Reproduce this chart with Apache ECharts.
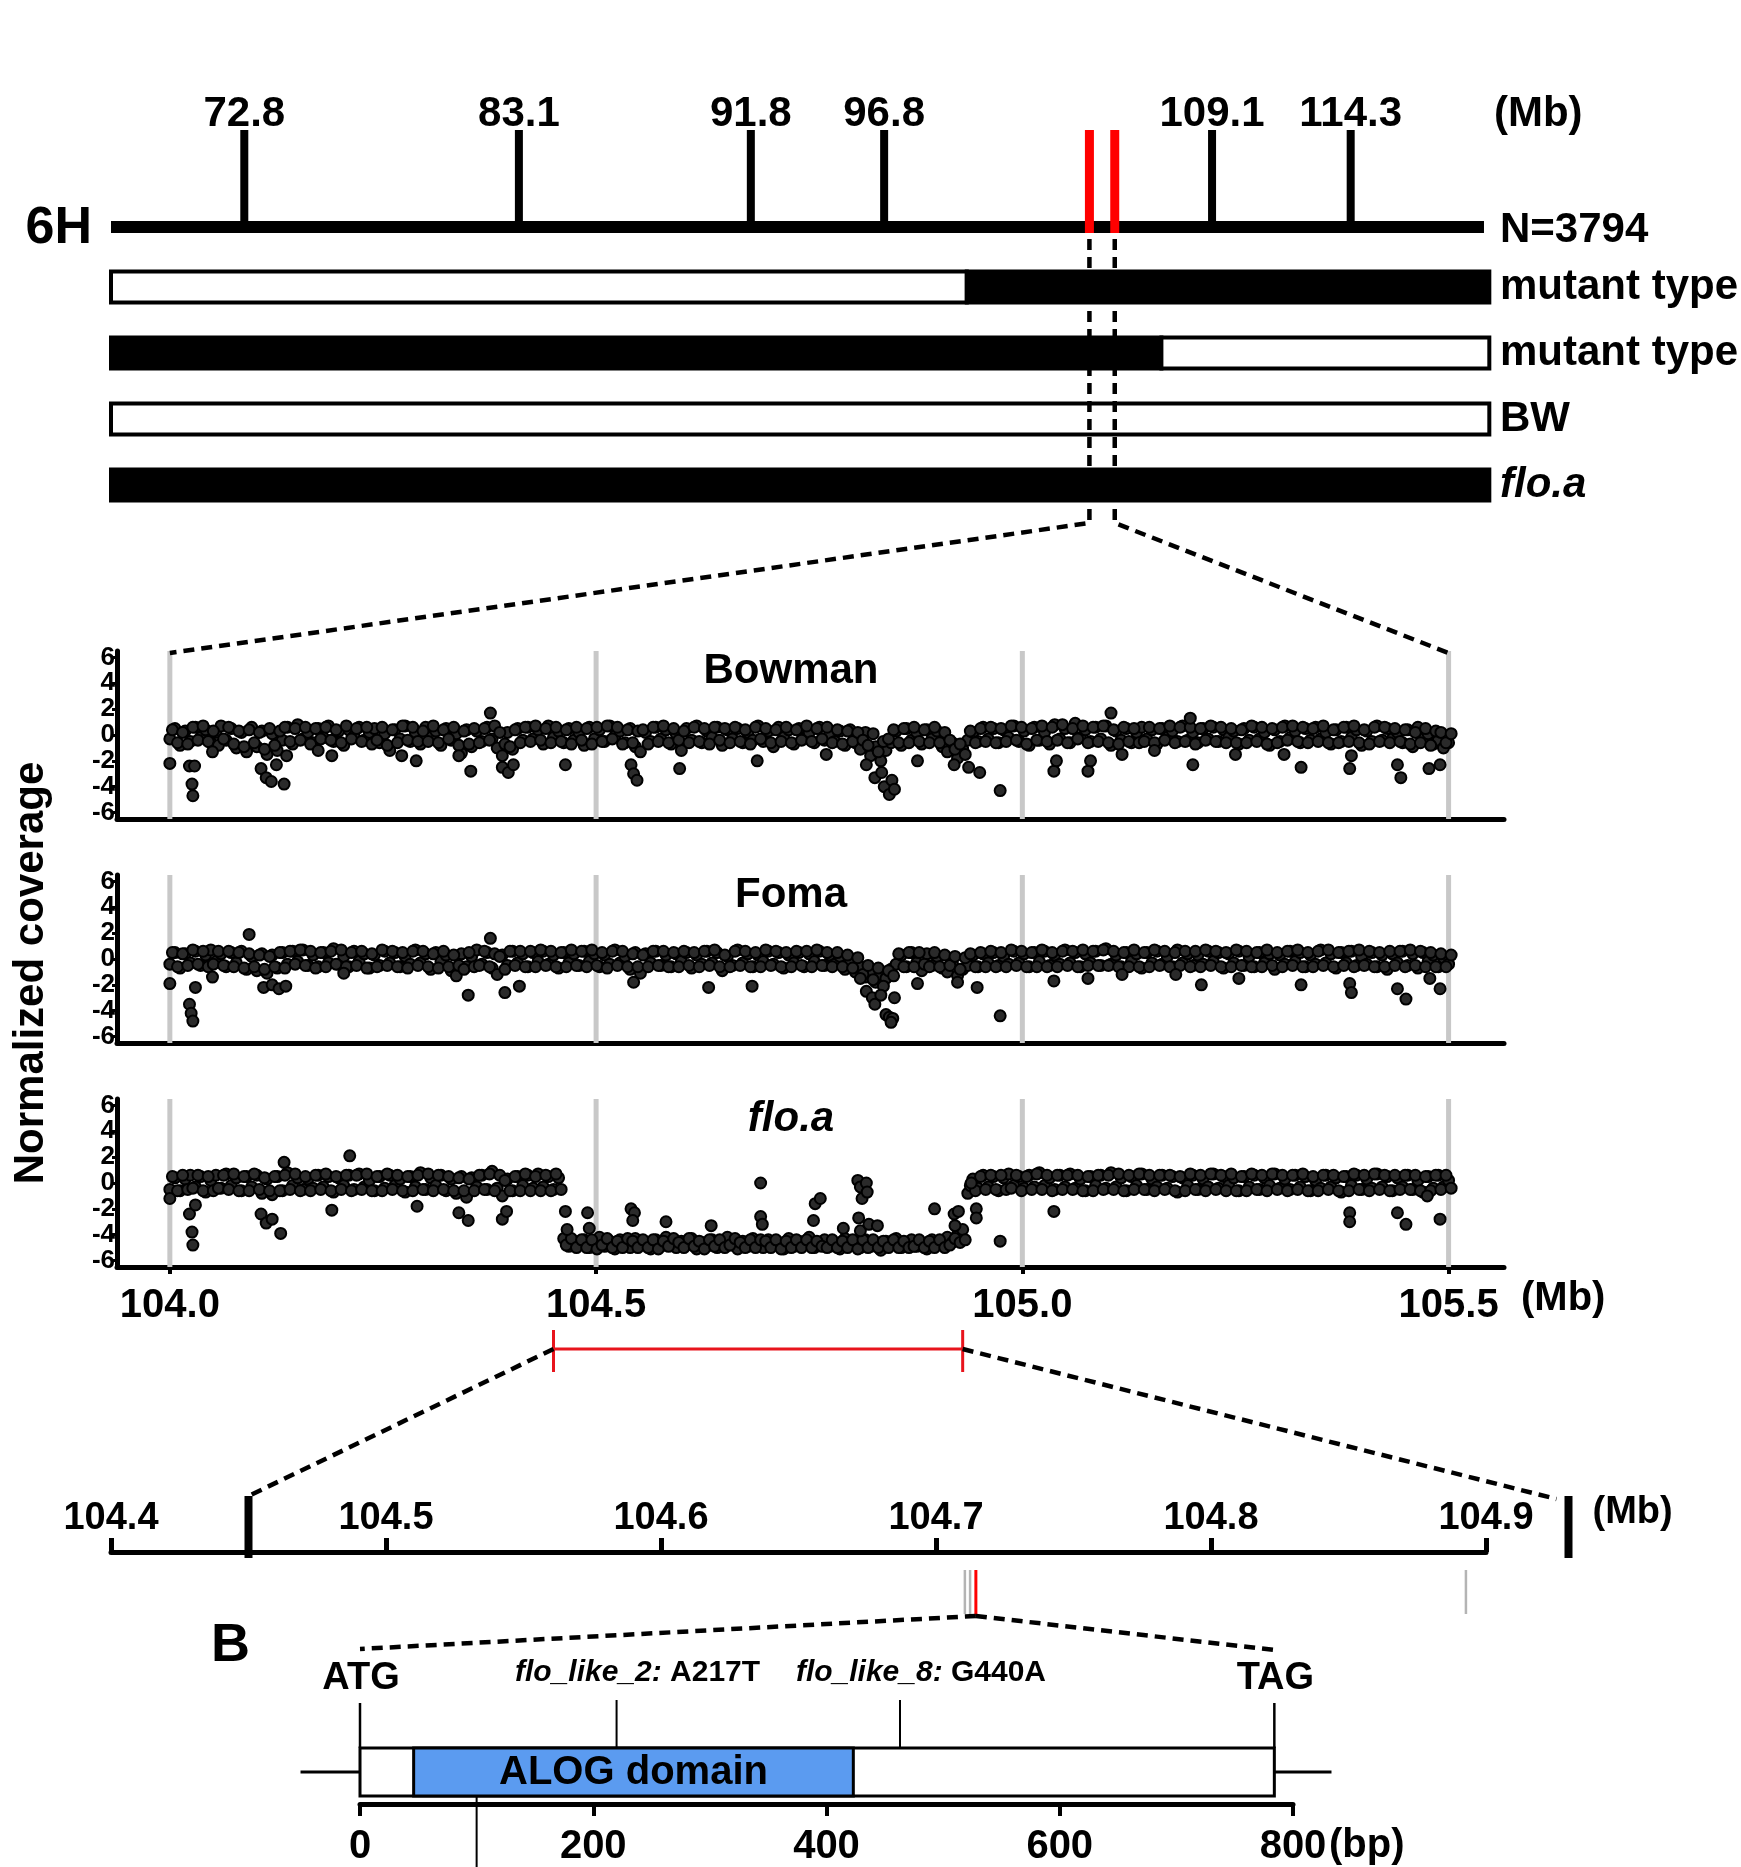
<!DOCTYPE html>
<html>
<head>
<meta charset="utf-8">
<title>6H fine mapping of flo.a</title>
<script src="https://cdn.jsdelivr.net/npm/echarts@6.0.0/dist/echarts.min.js"></script>
<style>
html,body{margin:0;padding:0;background:#ffffff;}
#chart{width:1741px;height:1867px;}
</style>
</head>
<body>
<div id="chart"></div>
<script>
// ===================== DATA =====================
const chromLabel = '6H';
const chromRange = [67.8, 119.3];                 // Mb
const markerPos = [72.8, 83.1, 91.8, 96.8, 109.1, 114.3];
const flankMarkers = [104.5, 105.45];            // red flanking markers
const popLabel = 'N=3794';
const genoRows = ['mutant type', 'mutant type', 'BW', 'flo.a'];
// genotype segments: [start Mb, end Mb, allele (1 = flo.a, 0 = BW)]
const genoRow1 = [[67.8, 99.9, 0], [99.9, 119.5, 1]];
const genoRow2 = [[67.8, 107.2, 1], [107.2, 119.5, 0]];
const genoRow3 = [[67.8, 119.5, 0]];
const genoRow4 = [[67.8, 119.5, 1]];

const samples = ['Bowman', 'Foma', 'flo.a'];
const coverageTicks = [104.0, 104.5, 105.0, 105.5];
const coverageYTicks = [-6, -4, -2, 0, 2, 4, 6];

// genomic bins (Mb)
const binPos = [
104.000,104.006,104.012,104.018,104.024,104.030,104.036,104.042,104.048,104.054,
104.060,104.066,104.072,104.078,104.084,104.090,104.096,104.102,104.108,104.114,
104.120,104.126,104.132,104.138,104.144,104.150,104.156,104.162,104.168,104.174,
104.180,104.186,104.192,104.198,104.204,104.210,104.216,104.222,104.228,104.234,
104.240,104.246,104.252,104.258,104.264,104.270,104.276,104.282,104.288,104.294,
104.300,104.306,104.312,104.318,104.324,104.330,104.336,104.342,104.348,104.354,
104.360,104.366,104.372,104.378,104.384,104.390,104.396,104.402,104.408,104.414,
104.420,104.426,104.432,104.438,104.444,104.450,104.456,104.462,104.468,104.474,
104.480,104.486,104.492,104.498,104.504,104.510,104.516,104.522,104.528,104.534,
104.540,104.546,104.552,104.558,104.564,104.570,104.576,104.582,104.588,104.594,
104.600,104.606,104.612,104.618,104.624,104.630,104.636,104.642,104.648,104.654,
104.660,104.666,104.672,104.678,104.684,104.690,104.696,104.702,104.708,104.714,
104.720,104.726,104.732,104.738,104.744,104.750,104.756,104.762,104.768,104.774,
104.780,104.786,104.792,104.798,104.804,104.810,104.816,104.822,104.828,104.834,
104.840,104.846,104.852,104.858,104.864,104.870,104.876,104.882,104.888,104.894,
104.900,104.906,104.912,104.918,104.924,104.930,104.936,104.942,104.948,104.954,
104.960,104.966,104.972,104.978,104.984,104.990,104.996,105.002,105.008,105.014,
105.020,105.026,105.032,105.038,105.044,105.050,105.056,105.062,105.068,105.074,
105.080,105.086,105.092,105.098,105.104,105.110,105.116,105.122,105.128,105.134,
105.140,105.146,105.152,105.158,105.164,105.170,105.176,105.182,105.188,105.194,
105.200,105.206,105.212,105.218,105.224,105.230,105.236,105.242,105.248,105.254,
105.260,105.266,105.272,105.278,105.284,105.290,105.296,105.302,105.308,105.314,
105.320,105.326,105.332,105.338,105.344,105.350,105.356,105.362,105.368,105.374,
105.380,105.386,105.392,105.398,105.404,105.410,105.416,105.422,105.428,105.434,
105.440,105.446,105.452,105.458,105.464,105.470,105.476,105.482,105.488,105.494,
105.500];

// two read-outs per bin (upper / lower part of the dense cloud)
const bowmanBins = [
-0.3,0.5,-0.8,0.3,-0.5,0.6,-0.2,0.4,-0.6,0.2,
0.7,-0.4,0.5,-1.0,0.2,-1.3,0.6,-0.9,0.3,-1.5,
0.1,-1.2,-0.4,0.6,-0.7,0.8,-0.3,0.2,-0.6,0.5,
-0.2,0.7,-0.5,0.3,-0.8,0.4,-0.1,0.6,-0.4,0.2,
0.5,-0.6,0.1,-1.2,0.4,-0.3,0.7,-0.5,0.2,-0.7,
0.6,-0.2,0.3,-0.8,0.5,-0.4,0.1,-1.4,0.4,-0.9,
0.3,-0.5,0.6,-0.3,-1.0,-1.6,0.2,-1.1,0.5,-0.4,
0.6,-0.3,0.4,-0.7,0.7,-0.2,0.3,-0.6,0.5,-0.4,
0.2,-0.8,0.6,-0.3,0.4,-0.5,0.7,-0.1,0.3,-0.6,
0.5,-0.9,-1.3,0.2,-0.5,0.6,-0.3,0.4,-0.7,0.1,
-1.2,0.5,-0.4,0.7,-0.6,0.3,-0.2,0.6,-0.8,0.4,
-0.3,0.5,-0.6,0.2,-0.4,0.7,-0.5,0.3,-0.9,0.6,
-0.2,0.4,-0.7,0.5,-0.3,0.2,-0.6,0.6,-0.4,0.1,
-0.5,0.3,-0.8,0.4,-0.6,-1.1,0.2,-1.6,-0.9,-2.0,
-1.2,-0.6,0.3,-0.8,0.5,-0.4,0.2,-0.7,0.4,-0.3,
0.3,-0.9,-1.3,-0.6,-1.8,-1.1,-0.4,0.2,-0.5,0.6,
-0.3,0.5,-0.6,0.4,-0.2,0.7,-0.5,0.3,-0.8,0.6,
-0.4,0.2,-0.7,0.8,-0.3,0.5,-0.6,0.9,-0.2,0.4,
-0.5,0.6,-0.3,0.7,-0.8,0.3,-0.4,0.5,-0.6,0.2,
0.6,-0.3,0.4,-0.7,0.5,-0.2,0.3,-0.5,0.7,-0.4,
0.2,-0.6,0.5,-0.3,0.6,-0.5,0.4,-0.2,0.3,-0.7,
0.5,-0.4,0.6,-0.3,0.2,-0.8,0.4,-0.5,0.7,-0.2,
0.3,-0.6,0.5,-0.4,0.6,-0.3,0.2,-0.7,0.4,-0.5,
0.6,-0.2,0.4,-0.8,0.3,-0.5,0.7,-0.4,0.5,-0.3,
0.2,-0.6,0.4,-0.9,0.6,-0.3,0.1,-0.7,-0.4,-1.0,
-0.6];
const bowmanBins2 = [
0.4,-0.6,0.2,-0.7,0.6,-0.4,0.7,-0.5,0.3,-0.8,
-0.3,0.6,-0.7,0.3,-0.9,0.4,-0.6,0.2,-1.1,0.5,
-0.8,0.3,0.6,-0.5,0.5,-0.4,0.6,-0.7,0.5,-0.3,
0.6,-0.4,0.4,-0.6,0.7,-0.3,0.5,-0.5,0.6,-0.7,
-0.4,0.6,-0.8,0.4,-0.6,0.7,-0.4,0.6,-0.5,0.3,
-0.5,0.7,-0.6,0.4,-0.3,0.6,-0.8,0.3,-0.7,0.5,
-0.6,0.5,-0.4,0.7,0.2,-0.7,-0.9,0.4,-0.6,0.6,
-0.5,0.7,-0.4,0.5,-0.6,0.6,-0.5,0.4,-0.7,0.6,
-0.4,0.5,-0.7,0.6,-0.5,0.7,-0.3,0.6,-0.7,0.4,
-0.6,0.3,0.4,-0.7,0.6,-0.5,0.7,-0.6,0.5,-0.4,
0.3,-0.6,0.6,-0.5,0.5,-0.7,0.6,-0.4,0.5,-0.6,
0.6,-0.5,0.4,-0.7,0.6,-0.3,0.5,-0.6,0.4,-0.5,
0.6,-0.6,0.4,-0.4,0.7,-0.5,0.5,-0.3,0.6,-0.6,
0.4,-0.7,0.3,-0.5,0.2,-0.4,-0.8,0.1,-1.3,-0.5,
-0.3,0.4,-0.6,0.5,-0.6,0.6,-0.5,0.4,-0.6,0.6,
-0.6,0.2,-0.4,-1.1,-0.7,-1.5,0.3,-0.6,0.5,-0.5,
0.6,-0.6,0.5,-0.5,0.7,-0.4,0.6,-0.7,0.5,-0.4,
0.7,-0.5,0.6,-0.4,0.8,-0.6,0.5,-0.3,0.7,-0.6,
0.6,-0.5,0.7,-0.6,0.4,-0.7,0.6,-0.5,0.5,-0.6,
-0.5,0.6,-0.6,0.5,-0.4,0.7,-0.6,0.6,-0.5,0.6,
-0.7,0.5,-0.4,0.7,-0.5,0.6,-0.6,0.5,-0.6,0.4,
-0.6,0.7,-0.5,0.6,-0.7,0.5,-0.6,0.6,-0.4,0.7,
-0.5,0.6,-0.6,0.5,-0.5,0.7,-0.6,0.4,-0.6,0.6,
-0.5,0.7,-0.6,0.4,-0.7,0.6,-0.5,0.6,-0.6,0.5,
-0.5,0.4,-0.7,0.2,-0.6,0.5,-0.8,0.3,0.2,-0.6,
0.1];

const fomaBins = [
-0.4,0.5,-0.7,0.4,-0.3,0.6,-0.5,0.3,0.7,-0.2,
0.4,-0.6,0.5,-0.3,0.6,-0.8,0.2,-0.9,0.4,-1.1,
0.3,-0.7,0.5,-0.4,0.6,-0.2,0.7,-0.5,0.3,-0.6,
0.5,-0.3,0.8,-0.4,0.2,-0.6,0.6,-0.2,0.4,-0.7,
0.3,-0.5,0.6,-0.3,0.5,-0.6,0.2,-0.4,0.7,-0.3,
0.4,-0.8,0.5,-0.2,0.3,-0.9,-1.3,0.4,-0.6,0.2,
0.7,-0.4,0.5,-0.7,-1.2,0.3,-0.5,0.6,-0.3,0.4,
-0.6,0.5,-0.2,0.6,-0.4,0.3,-0.7,0.5,-0.3,0.4,
-0.5,0.6,-0.2,0.4,-0.6,0.3,-0.4,0.7,-0.3,0.2,
-0.8,0.5,-1.1,0.4,-0.3,0.6,-0.5,0.3,-0.6,0.4,
-0.2,0.5,-0.7,0.3,-0.4,0.6,-0.3,0.5,-0.9,0.2,
-0.5,0.7,-0.3,0.4,-0.6,0.3,-0.2,0.6,-0.4,0.5,
-0.7,0.3,-0.3,0.5,-0.6,0.4,-0.2,0.6,-0.5,0.3,
-0.4,0.2,-0.8,-0.3,-1.0,-0.6,-1.4,-0.9,-1.8,-1.2,
-1.5,-0.8,-0.4,0.3,-0.6,0.5,-0.3,-0.9,0.4,-0.5,
0.2,-0.7,-1.0,-0.4,-1.3,-0.8,-0.5,0.3,-0.6,0.4,
-0.3,0.5,-0.5,0.2,-0.4,0.6,-0.3,0.4,-0.6,0.5,
-0.2,0.6,-0.5,0.3,-0.4,0.7,-0.3,0.5,-0.6,0.4,
-0.3,0.6,-0.5,0.8,-0.4,0.3,-0.6,0.5,-0.2,0.4,
-0.7,0.5,-0.3,0.6,-0.4,0.2,-0.6,0.7,-0.3,0.4,
-0.5,0.3,-0.4,0.6,-0.2,0.5,-0.7,0.4,-0.3,0.6,
-0.5,0.2,-0.6,0.5,-0.3,0.4,-0.8,0.3,-0.4,0.6,
-0.2,0.5,-0.6,0.3,-0.4,0.7,-0.3,0.4,-0.7,0.5,
-0.3,0.6,-0.5,0.2,-0.4,0.5,-0.6,0.3,-0.8,0.4,
-0.3,0.6,-0.5,0.4,-0.7,0.5,-0.2,0.3,-0.6,0.1,
-0.4];
const fomaBins2 = [
0.5,-0.6,0.4,-0.5,0.7,-0.4,0.6,-0.6,-0.4,0.6,
-0.5,0.6,-0.6,0.5,-0.7,0.4,-0.6,0.3,-0.8,0.2,
-0.6,0.5,-0.7,0.6,-0.4,0.7,-0.5,0.6,-0.7,0.5,
-0.6,0.6,-0.4,0.7,-0.6,0.5,-0.5,0.6,-0.7,0.4,
-0.6,0.7,-0.5,0.6,-0.6,0.5,-0.7,0.6,-0.5,0.6,
-0.6,0.4,-0.7,0.6,-0.6,0.3,-0.5,-0.8,0.5,-0.6,
-0.5,0.6,-0.6,0.4,0.2,-0.8,0.6,-0.5,0.6,-0.6,
0.6,-0.6,0.7,-0.5,0.6,-0.6,0.5,-0.6,0.7,-0.5,
0.6,-0.6,0.7,-0.5,0.5,-0.7,0.6,-0.5,0.6,-0.6,
0.4,-0.6,0.3,-0.6,0.6,-0.5,0.6,-0.6,0.5,-0.6,
0.6,-0.5,0.5,-0.6,0.6,-0.5,0.7,-0.6,0.3,-0.6,
0.6,-0.5,0.6,-0.6,0.5,-0.6,0.7,-0.5,0.6,-0.6,
0.5,-0.6,0.6,-0.5,0.6,-0.6,0.7,-0.5,0.5,-0.6,
0.5,-0.6,0.3,-0.7,0.1,-1.2,-0.5,-1.6,-0.7,-2.1,
-0.9,-1.3,0.4,-0.6,0.5,-0.6,0.5,-0.4,-0.6,0.5,
-0.6,0.3,-0.5,0.2,-0.8,0.1,0.4,-0.6,0.5,-0.6,
0.6,-0.6,0.5,-0.6,0.7,-0.5,0.6,-0.6,0.5,-0.6,
0.7,-0.6,0.5,-0.6,0.6,-0.5,0.6,-0.6,0.7,-0.5,
0.6,-0.5,0.7,-0.5,0.6,-0.6,0.5,-0.6,0.7,-0.6,
0.5,-0.6,0.7,-0.5,0.6,-0.6,0.5,-0.5,0.6,-0.6,
0.6,-0.6,0.7,-0.5,0.6,-0.6,0.5,-0.6,0.7,-0.5,
0.6,-0.6,0.5,-0.6,0.7,-0.5,0.5,-0.6,0.6,-0.5,
0.7,-0.6,0.5,-0.6,0.6,-0.5,0.7,-0.6,0.5,-0.5,
0.6,-0.6,0.7,-0.5,0.6,-0.6,0.5,-0.6,0.6,-0.5,
0.6,-0.6,0.7,-0.5,0.6,-0.6,0.5,-0.6,0.4,-0.6,
0.3];

const floaBins = [
-0.5,0.4,-0.6,0.3,0.6,-0.3,0.5,-0.7,0.2,0.6,
-0.4,0.7,-0.2,0.4,-0.6,0.5,-0.3,0.6,-0.8,0.3,
-0.9,0.5,-0.6,0.8,-0.2,0.4,-0.5,0.3,-0.4,0.6,
-0.3,0.5,-0.7,0.4,-0.2,0.6,-0.5,0.7,-0.3,0.2,
-0.6,0.5,-0.4,0.6,-0.2,0.3,-0.7,0.5,-0.3,0.8,
-0.5,0.4,-0.2,0.6,-0.6,0.3,-0.8,0.5,-1.1,0.4,
-0.3,0.6,-0.5,0.9,-0.4,-1.0,0.3,-0.6,0.5,-0.2,
0.6,-0.4,0.7,-0.3,0.5,-0.5,0.4,-4.3,-4.9,-4.5,
-4.8,-4.4,-5.0,-4.6,-4.2,-4.9,-4.5,-5.1,-4.4,-4.7,
-5.0,-4.3,-4.8,-4.6,-5.1,-4.4,-4.9,-4.2,-4.7,-5.0,
-4.5,-4.8,-4.3,-5.1,-4.6,-4.9,-4.4,-5.0,-4.7,-4.2,
-4.8,-5.1,-4.5,-4.9,-4.3,-4.7,-5.0,-4.4,-4.8,-4.6,
-5.1,-4.3,-4.9,-4.5,-4.8,-4.2,-5.0,-4.6,-4.4,-4.9,
-4.7,-5.1,-4.3,-4.8,-4.5,-5.0,-4.4,-4.9,-4.6,-5.2,
-4.5,-4.8,-4.3,-5.0,-4.6,-4.4,-4.9,-4.7,-5.1,-4.4,
-4.8,-4.5,-4.2,-4.6,-4.0,-3.6,-0.8,0.3,-0.4,0.6,
-0.3,0.5,-0.6,0.4,0.7,-0.2,0.5,-0.4,0.6,-0.3,
0.8,-0.2,0.4,-0.5,0.6,-0.3,0.7,-0.4,0.3,-0.6,
0.5,-0.2,0.6,-0.4,0.8,-0.3,0.4,-0.6,0.5,-0.2,
0.7,-0.5,0.3,-0.3,0.6,-0.4,0.5,-0.7,0.4,-0.2,
0.6,-0.5,0.3,-0.3,0.7,-0.4,0.5,-0.2,0.4,-0.6,
0.5,-0.3,0.6,-0.5,0.4,-0.2,0.7,-0.4,0.3,-0.5,
0.6,-0.3,0.5,-0.6,0.2,-0.4,0.6,-0.3,0.4,-0.7,
0.5,-0.2,0.6,-0.5,0.3,-0.4,0.7,-0.3,0.5,-0.6,
0.4,-0.3,0.6,-0.5,0.2,-0.7,0.5,-0.4,0.6,-0.3,
0.2];
const floaBins2 = [
0.5,-0.6,0.6,-0.5,-0.4,0.6,-0.6,0.5,-0.6,-0.4,
0.6,-0.5,0.7,-0.6,0.5,-0.6,0.7,-0.5,0.4,-0.6,
0.5,-0.6,0.6,-0.5,0.7,-0.6,0.5,-0.6,0.6,-0.5,
0.7,-0.6,0.5,-0.5,0.6,-0.6,0.6,-0.5,0.7,-0.6,
0.5,-0.6,0.7,-0.5,0.6,-0.6,0.5,-0.6,0.6,-0.5,
0.7,-0.6,0.6,-0.5,0.5,-0.6,0.4,-0.6,0.3,-0.6,
0.6,-0.5,0.7,-0.6,0.6,0.2,-0.6,0.5,-0.6,0.7,
-0.6,0.5,-0.6,0.6,-0.6,0.7,-0.5,-4.8,-4.3,-5.0,
-4.4,-5.0,-4.4,-5.1,-4.8,-4.3,-5.0,-4.5,-5.0,-4.3,
-4.5,-5.0,-4.4,-5.0,-4.4,-5.1,-4.5,-4.9,-4.3,-4.6,
-5.0,-4.3,-4.9,-4.5,-5.1,-4.4,-4.9,-4.4,-5.0,-4.8,
-4.3,-4.6,-5.0,-4.4,-5.0,-4.4,-4.5,-5.0,-4.4,-5.1,
-4.5,-5.0,-4.4,-5.0,-4.4,-5.0,-4.5,-4.9,-5.0,-4.4,
-5.0,-4.5,-5.0,-4.4,-5.1,-4.4,-5.0,-4.4,-5.0,-4.5,
-5.0,-4.4,-5.0,-4.5,-5.0,-4.9,-4.4,-5.0,-4.5,-5.0,
-4.4,-5.0,-4.8,-4.3,-4.6,-4.4,-0.2,-0.6,0.5,-0.5,
0.6,-0.5,0.6,-0.5,-0.4,0.6,-0.6,0.5,-0.5,0.7,
-0.5,0.6,-0.6,0.6,-0.5,0.6,-0.5,0.6,-0.6,0.5,
-0.6,0.6,-0.5,0.6,-0.5,0.7,-0.6,0.6,-0.5,0.7,
-0.5,0.6,-0.6,0.6,-0.5,0.6,-0.6,0.5,-0.6,0.7,
-0.5,0.6,-0.6,0.7,-0.5,0.6,-0.6,0.7,-0.6,0.5,
-0.6,0.7,-0.5,0.6,-0.6,0.7,-0.5,0.6,-0.6,0.6,
-0.5,0.7,-0.6,0.5,-0.6,0.6,-0.5,0.6,-0.6,0.5,
-0.6,0.7,-0.5,0.6,-0.6,0.7,-0.5,0.6,-0.6,0.6,
-0.5,0.6,-0.5,0.6,-0.6,0.5,-0.6,0.6,-0.5,0.6,
-0.4];

// off-band points [Mb, normalized coverage]
const bowmanLow = [
[104.0,-2.2],[104.023,-2.4],[104.026,-3.8],[104.027,-4.7],[104.029,-2.4],[104.05,-1.3],
[104.107,-2.6],[104.113,-3.3],[104.119,-3.6],[104.125,-2.3],[104.134,-3.8],[104.137,-1.6],
[104.174,-1.2],[104.19,-1.6],[104.272,-1.6],[104.289,-2.0],[104.339,-1.6],[104.353,-2.8],
[104.376,1.7],[104.39,-2.5],[104.397,-2.9],[104.403,-2.3],[104.464,-2.3],[104.541,-2.3],
[104.544,-3.0],[104.548,-3.5],[104.598,-2.6],[104.689,-2.0],[104.77,-1.5],[104.817,-2.3],
[104.827,-3.3],[104.835,-2.9],[104.838,-4.0],[104.844,-4.6],[104.847,-3.5],[104.85,-4.2],
[104.877,-2.0],[104.92,-2.3],[104.937,-2.5],[104.95,-2.9],[104.974,-4.3],[105.037,-2.8],
[105.04,-2.0],[105.077,-2.8],[105.08,-2.0],[105.104,1.7],[105.117,-1.5],[105.155,-1.2],
[105.197,1.3],[105.2,-2.3],[105.25,-1.5],[105.307,-1.5],[105.327,-2.5],[105.384,-2.6],
[105.386,-1.6],[105.444,-3.3],[105.44,-2.3],[105.477,-2.6],[105.49,-2.3]];

const fomaLow = [
[104.0,-1.9],[104.023,-3.5],[104.025,-4.2],[104.027,-4.8],[104.03,-2.2],[104.05,-1.4],
[104.093,1.9],[104.11,-2.2],[104.12,-2.0],[104.128,-2.3],[104.136,-2.1],[104.204,-1.1],
[104.35,-2.8],[104.376,1.6],[104.393,-2.6],[104.41,-2.1],[104.544,-1.8],[104.632,-2.2],
[104.683,-2.1],[104.81,-1.5],[104.817,-2.5],[104.824,-3.0],[104.827,-3.5],[104.834,-2.8],
[104.84,-4.3],[104.844,-4.5],[104.848,-4.6],[104.846,-4.9],[104.85,-3.0],[104.877,-1.9],
[104.924,-1.8],[104.947,-2.2],[104.974,-4.4],[105.037,-1.7],[105.077,-1.5],[105.117,-1.2],
[105.18,-1.2],[105.21,-2.0],[105.254,-1.5],[105.327,-2.0],[105.384,-1.9],[105.386,-2.6],
[105.44,-2.3],[105.45,-3.1],[105.49,-2.3],[105.478,-1.5]];

const floaLow = [
[104.0,-1.2],[104.023,-2.4],[104.026,-3.8],[104.027,-4.8],[104.03,-1.7],[104.107,-2.4],
[104.113,-3.1],[104.12,-2.8],[104.13,-3.9],[104.134,1.6],[104.19,-2.1],[104.211,2.1],
[104.29,-1.8],[104.339,-2.3],[104.35,-2.9],[104.39,-2.8],[104.395,-2.2],
[104.464,-2.2],[104.466,-3.6],[104.49,-2.3],[104.492,-3.5],[104.541,-2.0],[104.545,-2.3],
[104.543,-2.9],[104.582,-3.0],[104.635,-3.3],[104.693,0.0],[104.693,-2.6],[104.695,-3.2],
[104.757,-1.6],[104.763,-1.2],[104.755,-2.9],[104.79,-3.5],[104.807,0.2],[104.81,-0.3],
[104.812,-1.2],[104.808,-2.7],[104.817,0.0],[104.818,-0.7],[104.81,-3.7],[104.82,-3.2],
[104.83,-3.3],[104.897,-2.0],[104.92,-2.4],[104.921,-3.3],[104.925,-2.2],[104.94,0.0],
[104.946,-2.0],[104.946,-2.7],[104.974,-4.5],
[105.037,-2.2],[105.384,-2.3],[105.384,-3.0],[105.44,-2.3],[105.45,-3.2],[105.49,-2.8],
[105.475,-1.0]];

const deletion = [104.45, 104.93];               // Mb, deleted interval in flo.a
const fineTicks = [104.4, 104.5, 104.6, 104.7, 104.8, 104.9];
const otherGenes = [104.7105, 104.7124, 104.8927];
const targetGene = 104.7145;

// Panel B: gene model (bp)
const geneLength = 784;
const geneFlank = [-51, 833];
const alogDomain = [46, 423];
const codonPos = [0, 784];
const codonLabels = ['ATG', 'TAG'];
const mutPos = [220, 463];
const mutAllele = ['flo_like_2', 'flo_like_8'];
const mutChange = ['A217T', 'G440A'];
const bpTicks = [0, 200, 400, 600, 800];
const lowerMark = [100];

// ===================== LAYOUT / STYLE =====================
const FONT = "'Liberation Sans', Arial, Helvetica, sans-serif";
function T(size, extra) { return Object.assign({color:'#000', fontFamily:FONT, fontWeight:'bold', fontSize:size}, extra || {}); }
const LAY = {
  map: {left:111, top:188, width:1375, height:330},
  chromOffset: 6,
  covLeft:117, covWidth:1387, covHeight:168, covTops:[651, 875, 1099],
  covView:[103.938, 105.565], covYView:[-6.5, 6.5],
  fine: {left:111, top:1552, width:1375, height:62},
  gene: {left:360, top:1700, width:933, height:107}
};
const rowLabels = [popLabel].concat(genoRows);
const rowKeys = rowLabels.map((_, i) => 'r' + i);

// ===================== AXES =====================
const grids = [
  LAY.map,
  {left:LAY.covLeft, top:LAY.covTops[0], width:LAY.covWidth, height:LAY.covHeight},
  {left:LAY.covLeft, top:LAY.covTops[1], width:LAY.covWidth, height:LAY.covHeight},
  {left:LAY.covLeft, top:LAY.covTops[2], width:LAY.covWidth, height:LAY.covHeight},
  LAY.fine,
  LAY.gene
];

const xAxes = [
  {gridIndex:0, type:'value', position:'top', min:chromRange[0], max:chromRange[1],
   axisLine:{show:false}, axisTick:{show:false}, splitLine:{show:false},
   axisLabel:Object.assign({customValues:markerPos, formatter:v => v.toFixed(1), margin:53}, T(42))}
];
[1, 2, 3].forEach(g => xAxes.push({
  gridIndex:g, type:'value', min:LAY.covView[0], max:LAY.covView[1],
  axisLine:{show:true, onZero:false, lineStyle:{color:'#000', width:5}},
  axisTick:{show:g === 3, customValues:coverageTicks, length:7, lineStyle:{color:'#000', width:4}},
  axisLabel:Object.assign({show:g === 3, customValues:coverageTicks, formatter:v => v.toFixed(1), margin:19}, T(40)),
  splitLine:{show:false}
}));
xAxes.push({gridIndex:4, type:'value', position:'top', min:fineTicks[0], max:fineTicks[fineTicks.length - 1],
  axisLine:{show:true, onZero:false, lineStyle:{color:'#000', width:5}},
  axisTick:{show:true, customValues:fineTicks, length:14, lineStyle:{color:'#000', width:5}},
  axisLabel:Object.assign({customValues:fineTicks, formatter:v => v.toFixed(1), margin:14}, T(38)),
  splitLine:{show:false}});
xAxes.push({gridIndex:5, type:'value', min:bpTicks[0], max:bpTicks[bpTicks.length - 1],
  axisLine:{show:true, onZero:false, lineStyle:{color:'#000', width:5}},
  axisTick:{show:true, customValues:bpTicks, length:12, lineStyle:{color:'#000', width:4}},
  axisLabel:Object.assign({customValues:bpTicks, margin:23}, T(40)),
  splitLine:{show:false}});

const yAxes = [
  {gridIndex:0, type:'category', inverse:true, data:rowKeys,
   axisLine:{show:false}, axisTick:{show:false}, splitLine:{show:false},
   axisLabel:Object.assign({formatter:(v, i) => i === 0 ? '{h|' + chromLabel + '}' : '', margin:19,
     rich:{h:T(52, {padding:[16, 0, 0, 0]})}}, T(52))},
  {gridIndex:0, type:'category', position:'right', inverse:true, data:rowKeys,
   axisLine:{show:false}, axisTick:{show:false}, splitLine:{show:false},
   axisLabel:Object.assign({
     formatter:(v, i) => i === 0 ? '{n|' + rowLabels[i] + '}' : (rowLabels[i] === 'flo.a' ? '{it|' + rowLabels[i] + '}' : rowLabels[i]),
     margin:16, rich:{it:T(42, {fontStyle:'italic'}), n:T(42, {padding:[18, 0, 0, 0]})}}, T(42))}
];
[1, 2, 3].forEach(g => yAxes.push({
  gridIndex:g, type:'value', min:LAY.covYView[0], max:LAY.covYView[1],
  axisLine:{show:true, onZero:false, lineStyle:{color:'#000', width:5}},
  axisTick:{show:true, customValues:coverageYTicks, length:5, lineStyle:{color:'#000', width:3}},
  axisLabel:Object.assign({customValues:coverageYTicks, margin:2}, T(26)),
  splitLine:{show:false}
}));
yAxes.push({gridIndex:4, type:'value', min:0, max:1, show:false});
yAxes.push({gridIndex:5, type:'value', min:0, max:1, show:false});

// ===================== SERIES =====================
const series = [];
// chromosome bar
series.push({type:'custom', xAxisIndex:0, yAxisIndex:0, clip:false, z:2, encode:{x:[0, 1], y:2},
  data:[[chromRange[0], chromRange[1], 0]],
  renderItem:(p, api) => {
    const a = api.coord([api.value(0), api.value(2)]), b = api.coord([api.value(1), api.value(2)]);
    const y = a[1] + LAY.chromOffset;
    return {type:'rect', shape:{x:a[0], y:y - 6, width:b[0] - a[0], height:12}, style:{fill:'#000'}};
  }});
function markerSeries(list, color, w) {
  return {type:'custom', xAxisIndex:0, yAxisIndex:0, clip:false, z:3, encode:{x:0, y:1},
    data:list.map(v => [v, 0]),
    renderItem:(p, api) => {
      const c = api.coord([api.value(0), api.value(1)]);
      const y = c[1] + LAY.chromOffset;
      return {type:'rect', shape:{x:c[0] - w / 2, y:y - 97, width:w, height:103}, style:{fill:color}};
    }};
}
series.push(markerSeries(markerPos, '#000', 8));
series.push(markerSeries(flankMarkers, '#ff0000', 9));
// genotype bars
const genoData = [];
[genoRow1, genoRow2, genoRow3, genoRow4].forEach((row, r) => row.forEach(s => genoData.push([s[0], s[1], r + 1, s[2]])));
series.push({type:'custom', xAxisIndex:0, yAxisIndex:0, clip:false, z:2, encode:{x:[0, 1], y:2},
  data:genoData,
  renderItem:(p, api) => {
    const a = api.coord([api.value(0), api.value(2)]), b = api.coord([api.value(1), api.value(2)]);
    return {type:'rect', shape:{x:a[0], y:a[1] - 15.5, width:b[0] - a[0], height:31},
      style:{fill:api.value(3) ? '#000' : '#fff', stroke:'#000', lineWidth:4}};
  }});

// coverage panels
const bandSets = [bowmanBins, fomaBins, floaBins];
const bandSets2 = [bowmanBins2, fomaBins2, floaBins2];
const lowSets = [bowmanLow, fomaLow, floaLow];
[0, 1, 2].forEach(k => {
  series.push({type:'custom', xAxisIndex:k + 1, yAxisIndex:k + 2, z:1, clip:false,
    data:coverageTicks.map(v => [v, 0]),
    renderItem:(p, api) => {
      const c = api.coord([api.value(0), 0]); const cs = p.coordSys;
      return {type:'line', shape:{x1:c[0], y1:cs.y, x2:c[0], y2:cs.y + cs.height}, style:{stroke:'#c8c8c8', lineWidth:5}};
    }});
  series.push({type:'scatter', name:samples[k], xAxisIndex:k + 1, yAxisIndex:k + 2, z:2,
    symbol:'circle', symbolSize:11,
    itemStyle:{color:'#2a2a2a', borderColor:'#000', borderWidth:2, opacity:1},
    data:binPos.map((x, i) => [x, bandSets[k][i]])
      .concat(binPos.map((x, i) => [x + 0.003, bandSets2[k][i]]))
      .concat(lowSets[k])});
});
// red bracket (deleted interval)
series.push({type:'custom', xAxisIndex:3, yAxisIndex:4, clip:false, z:3,
  data:[[deletion[0], deletion[1]]],
  renderItem:(p, api) => {
    const cs = p.coordSys;
    const a = api.coord([api.value(0), 0]), b = api.coord([api.value(1), 0]);
    const y = cs.y + cs.height + 82;
    const st = {stroke:'#e8141c', lineWidth:3};
    return {type:'group', children:[
      {type:'line', shape:{x1:a[0], y1:y, x2:b[0], y2:y}, style:st},
      {type:'line', shape:{x1:a[0], y1:y - 19, x2:a[0], y2:y + 23}, style:st},
      {type:'line', shape:{x1:b[0], y1:y - 19, x2:b[0], y2:y + 23}, style:st}
    ]};
  }});

// fine map
series.push({type:'custom', xAxisIndex:4, yAxisIndex:5, clip:false, z:3,
  data:deletion.map(v => [v, 0]),
  renderItem:(p, api) => {
    const cs = p.coordSys; const c = api.coord([api.value(0), 0]);
    return {type:'rect', shape:{x:c[0] - 4, y:cs.y - 56, width:8, height:62}, style:{fill:'#000'}};
  }});
series.push({type:'custom', xAxisIndex:4, yAxisIndex:5, clip:false, z:3,
  data:otherGenes.map(v => [v, 0]),
  renderItem:(p, api) => {
    const cs = p.coordSys; const c = api.coord([api.value(0), 0]);
    return {type:'line', shape:{x1:c[0], y1:cs.y + 18, x2:c[0], y2:cs.y + 62}, style:{stroke:'#b4b4b4', lineWidth:2.5}};
  }});
series.push({type:'custom', xAxisIndex:4, yAxisIndex:5, clip:false, z:4,
  data:[[targetGene, 0]],
  renderItem:(p, api) => {
    const cs = p.coordSys; const c = api.coord([api.value(0), 0]);
    return {type:'line', shape:{x1:c[0], y1:cs.y + 18, x2:c[0], y2:cs.y + 64}, style:{stroke:'#ff0000', lineWidth:3}};
  }});

// gene model
series.push({type:'custom', xAxisIndex:5, yAxisIndex:6, clip:false, z:2,
  data:[[geneFlank[0], geneFlank[1]]],
  renderItem:(p, api) => {
    const cs = p.coordSys; const a = api.coord([api.value(0), 0]), b = api.coord([api.value(1), 0]);
    const y = cs.y + 72;
    return {type:'line', shape:{x1:a[0], y1:y, x2:b[0], y2:y}, style:{stroke:'#000', lineWidth:3}};
  }});
series.push({type:'custom', xAxisIndex:5, yAxisIndex:6, clip:false, z:3,
  data:[[0, geneLength]],
  renderItem:(p, api) => {
    const cs = p.coordSys; const a = api.coord([api.value(0), 0]), b = api.coord([api.value(1), 0]);
    return {type:'rect', shape:{x:a[0], y:cs.y + 48, width:b[0] - a[0], height:48}, style:{fill:'#fff', stroke:'#000', lineWidth:3}};
  }});
series.push({type:'custom', xAxisIndex:5, yAxisIndex:6, clip:false, z:4,
  data:[[alogDomain[0], alogDomain[1]]],
  renderItem:(p, api) => {
    const cs = p.coordSys; const a = api.coord([api.value(0), 0]), b = api.coord([api.value(1), 0]);
    return {type:'group', children:[
      {type:'rect', shape:{x:a[0], y:cs.y + 48, width:b[0] - a[0], height:48}, style:{fill:'#5b9bf0', stroke:'#000', lineWidth:3}},
      {type:'text', x:(a[0] + b[0]) / 2, y:cs.y + 73,
       style:{text:'ALOG domain', fill:'#000', fontFamily:FONT, fontWeight:'bold', fontSize:40, align:'center', verticalAlign:'middle'}}
    ]};
  }});
series.push({type:'custom', xAxisIndex:5, yAxisIndex:6, clip:false, z:5,
  data:codonPos.map((v, i) => [v, i]),
  renderItem:(p, api) => {
    const cs = p.coordSys; const c = api.coord([api.value(0), 0]);
    return {type:'group', children:[
      {type:'line', shape:{x1:c[0], y1:cs.y + 3, x2:c[0], y2:cs.y + 48}, style:{stroke:'#000', lineWidth:2.5}},
      {type:'text', x:c[0] + 1, y:cs.y - 21,
       style:{text:codonLabels[api.value(1)], fill:'#000', fontFamily:FONT, fontWeight:'bold', fontSize:38, align:'center', verticalAlign:'middle'}}
    ]};
  }});
series.push({type:'custom', xAxisIndex:5, yAxisIndex:6, clip:false, z:5,
  data:mutPos.map((v, i) => [v, i]),
  renderItem:(p, api) => {
    const cs = p.coordSys; const c = api.coord([api.value(0), 0]); const i = api.value(1);
    return {type:'group', children:[
      {type:'line', shape:{x1:c[0], y1:cs.y, x2:c[0], y2:cs.y + 48}, style:{stroke:'#000', lineWidth:2}},
      {type:'text', x:c[0] + 21, y:cs.y - 27,
       style:{text:'{i|' + mutAllele[i] + ':} ' + mutChange[i], fill:'#000', fontFamily:FONT, fontWeight:'bold', fontSize:30,
              align:'center', verticalAlign:'middle',
              rich:{i:{fontFamily:FONT, fontWeight:'bold', fontStyle:'italic', fontSize:30, fill:'#000'}}}}
    ]};
  }});
series.push({type:'custom', xAxisIndex:5, yAxisIndex:6, clip:false, z:5,
  data:lowerMark.map(v => [v, 0]),
  renderItem:(p, api) => {
    const cs = p.coordSys; const c = api.coord([api.value(0), 0]);
    return {type:'line', shape:{x1:c[0], y1:cs.y + 96, x2:c[0], y2:cs.y + 170}, style:{stroke:'#000', lineWidth:2}};
  }});

const option = {
  animation:false,
  backgroundColor:'#ffffff',
  textStyle:{fontFamily:FONT},
  grid:grids,
  xAxis:xAxes,
  yAxis:yAxes,
  series:series
};

const chart = echarts.init(document.getElementById('chart'), null, {renderer:'canvas'});
chart.setOption(option);

// ===================== CONNECTORS & FREE TEXT =====================
const X = (ai, v) => chart.convertToPixel({xAxisIndex:ai}, v);
const Y = (ai, v) => chart.convertToPixel({yAxisIndex:ai}, v);
const chromY = Y(0, 0) + LAY.chromOffset, lastRowY = Y(0, rowKeys.length - 1);
const dash = {stroke:'#000', lineWidth:4.5, lineDash:[11, 7], fill:null};
const g = [];
flankMarkers.forEach((m, i) => {
  const x = X(0, m);
  const tx = X(1, i === 0 ? coverageTicks[0] : coverageTicks[coverageTicks.length - 1]);
  g.push({type:'polyline', z:10, shape:{points:[[x, chromY + 12], [x, lastRowY + 38], [tx, LAY.covTops[0] + 2]]}, style:dash});
});
const yB = LAY.covTops[2] + LAY.covHeight + 82;
g.push({type:'line', z:10, shape:{x1:X(3, deletion[0]), y1:yB, x2:X(4, deletion[0]), y2:LAY.fine.top - 56}, style:dash});
g.push({type:'line', z:10, shape:{x1:X(3, deletion[1]), y1:yB, x2:X(4, deletion[1]) - 12, y2:LAY.fine.top - 53}, style:dash});
const gx = X(4, targetGene), gy = LAY.fine.top + 64;
g.push({type:'line', z:10, shape:{x1:gx, y1:gy, x2:X(5, codonPos[0]), y2:LAY.gene.top - 51}, style:dash});
g.push({type:'line', z:10, shape:{x1:gx, y1:gy, x2:X(5, codonPos[1]), y2:LAY.gene.top - 50}, style:dash});

function txt(x, y, str, size, extra) {
  return {type:'text', x:x, y:y, z:20,
    style:Object.assign({text:str, fill:'#000', fontFamily:FONT, fontWeight:'bold', fontSize:size, align:'left', verticalAlign:'middle'}, extra || {})};
}
g.push(txt(X(0, chromRange[1]) + 10, 114, '(Mb)', 42));
g.push(txt(LAY.covLeft + LAY.covWidth + 17, 1299, '(Mb)', 40));
g.push(txt(X(4, deletion[1]) + 24, 1513, '(Mb)', 38));
g.push(txt(X(5, bpTicks[bpTicks.length - 1]) + 36, 1846, '(bp)', 40));
g.push(Object.assign(txt(31, 973, 'Normalized coverage', 42, {align:'center'}), {rotation:Math.PI / 2}));
g.push(txt(211, 1646, 'B', 54));
samples.forEach((s, k) => g.push(txt(791, LAY.covTops[k] + 20, s, 42, {align:'center', fontStyle:k === 2 ? 'italic' : 'normal'})));
chart.setOption({graphic:g});
</script>
</body>
</html>
